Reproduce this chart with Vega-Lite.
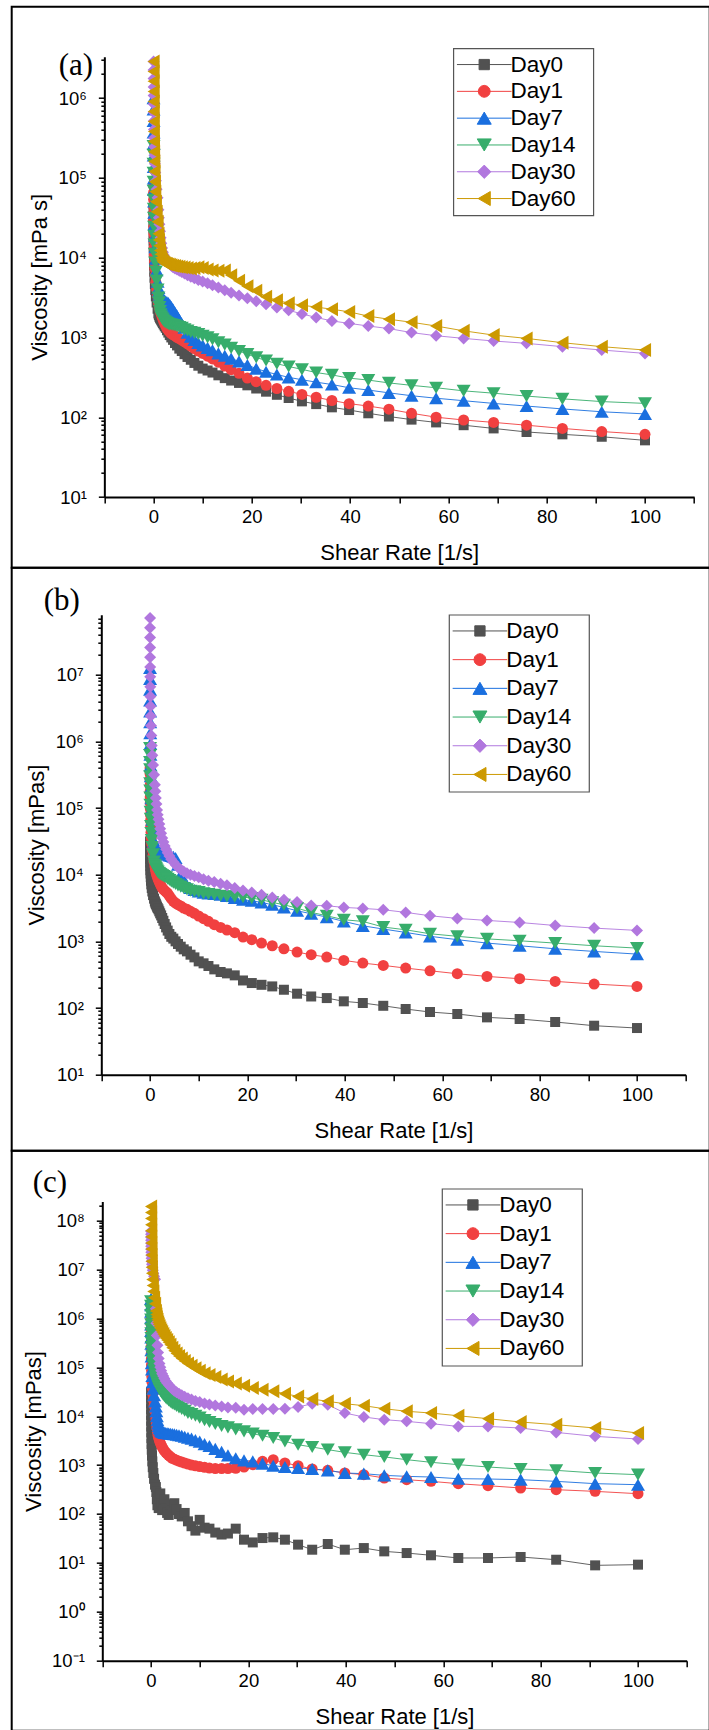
{
"$schema":"https://vega.github.io/schema/vega-lite/v6.json",
"background":"white",
"padding":{"left":10.7,"top":5.7,"right":-2,"bottom":-2},
"spacing":0,
"bounds":"flush",
"resolve":{"scale":{"color":"independent","shape":"independent"},"legend":{"color":"independent","shape":"independent"}},
"config":{
"view":{"stroke":"black","strokeWidth":2},
"axis":{"labelFont":"Liberation Sans","titleFont":"Liberation Sans","labelColor":"black","titleColor":"black","domainColor":"black","tickColor":"black","domainWidth":2,"tickWidth":1.5,"grid":false,"labelFontSize":18.5,"titleFontSize":22,"titleFontWeight":"normal","labelFlush":false,"labelOverlap":false},
"legend":{"strokeWidth":1.2}
},
"datasets":{
"a":[
{"x":0.01,"Day0":39800,"Day1":79400,"Day7":1000000,"Day14":251000,"Day30":2880000,"Day60":2880000},
{"x":0.0132,"Day0":33300,"Day1":65200,"Day7":718000,"Day14":194000,"Day30":2250000,"Day60":2160000},
{"x":0.0174,"Day0":27900,"Day1":53500,"Day7":516000,"Day14":150000,"Day30":1760000,"Day60":1620000},
{"x":0.0229,"Day0":23300,"Day1":43800,"Day7":371000,"Day14":116000,"Day30":1380000,"Day60":1210000},
{"x":0.0302,"Day0":19500,"Day1":35900,"Day7":266000,"Day14":89100,"Day30":1080000,"Day60":908000},
{"x":0.0398,"Day0":16300,"Day1":29400,"Day7":191000,"Day14":68800,"Day30":843000,"Day60":679000},
{"x":0.0525,"Day0":13600,"Day1":24200,"Day7":137000,"Day14":53100,"Day30":659000,"Day60":508000},
{"x":0.0692,"Day0":11400,"Day1":19800,"Day7":98600,"Day14":41000,"Day30":515000,"Day60":381000},
{"x":0.0912,"Day0":9550,"Day1":16200,"Day7":70800,"Day14":31600,"Day30":403000,"Day60":285000},
{"x":0.12,"Day0":8000,"Day1":13300,"Day7":50800,"Day14":24400,"Day30":315000,"Day60":213000},
{"x":0.158,"Day0":6680,"Day1":10900,"Day7":36600,"Day14":18800,"Day30":246000,"Day60":160000},
{"x":0.209,"Day0":5600,"Day1":8940,"Day7":26200,"Day14":14600,"Day30":192000,"Day60":120000},
{"x":0.275,"Day0":4680,"Day1":7330,"Day7":18800,"Day14":11200,"Day30":150000,"Day60":89700},
{"x":0.363,"Day0":3920,"Day1":6010,"Day7":13500,"Day14":8670,"Day30":117000,"Day60":67100},
{"x":0.479,"Day0":3270,"Day1":4930,"Day7":9720,"Day14":6680,"Day30":92000,"Day60":50200},
{"x":0.631,"Day0":2740,"Day1":4040,"Day7":6980,"Day14":5160,"Day30":71900,"Day60":37700},
{"x":0.832,"Day0":2290,"Day1":3310,"Day7":5010,"Day14":3980,"Day30":56200,"Day60":28200},
{"x":1,"Day0":2000,"Day1":2820,"Day7":4170,"Day14":3160,"Day30":39800,"Day60":20000},
{"x":1.1,"Day0":1910,"Day1":2630,"Day7":3800,"Day14":2750,"Day30":31600,"Day60":16600},
{"x":1.2,"Day0":1820,"Day1":2450,"Day7":3550,"Day14":2400,"Day30":26300,"Day60":14100},
{"x":1.32,"Day0":1760,"Day1":2240,"Day7":3390,"Day14":2140,"Day30":21400,"Day60":12300},
{"x":1.45,"Day0":1700,"Day1":2090,"Day7":3240,"Day14":1950,"Day30":17800,"Day60":11000},
{"x":1.58,"Day0":1640,"Day1":1950,"Day7":3160,"Day14":1820,"Day30":15100,"Day60":10000},
{"x":1.74,"Day0":1580,"Day1":1820,"Day7":3090,"Day14":1740,"Day30":13200,"Day60":9330},
{"x":1.91,"Day0":1510,"Day1":1700,"Day7":3020,"Day14":1680,"Day30":11700,"Day60":8910},
{"x":2.09,"Day0":1450,"Day1":1580,"Day7":2950,"Day14":1620,"Day30":10700,"Day60":8710},
{"x":2.29,"Day0":1380,"Day1":1480,"Day7":2880,"Day14":1580,"Day30":10000,"Day60":8510},
{"x":2.51,"Day0":1320,"Day1":1380,"Day7":2820,"Day14":1550,"Day30":9550,"Day60":8410},
{"x":2.75,"Day0":1230,"Day1":1290,"Day7":2750,"Day14":1510,"Day30":9120,"Day60":8320},
{"x":3.02,"Day0":1150,"Day1":1230,"Day7":2690,"Day14":1480,"Day30":8710,"Day60":8220},
{"x":3.31,"Day0":1070,"Day1":1170,"Day7":2570,"Day14":1460,"Day30":8320,"Day60":8130},
{"x":3.63,"Day0":1000,"Day1":1120,"Day7":2400,"Day14":1450,"Day30":7940,"Day60":8040},
{"x":3.98,"Day0":933,"Day1":1080,"Day7":2240,"Day14":1430,"Day30":7590,"Day60":7940},
{"x":4.37,"Day0":851,"Day1":1050,"Day7":2040,"Day14":1410,"Day30":7330,"Day60":7850},
{"x":4.79,"Day0":794,"Day1":1000,"Day7":1860,"Day14":1380,"Day30":7080,"Day60":7760},
{"x":5.25,"Day0":724,"Day1":966,"Day7":1660,"Day14":1350,"Day30":6840,"Day60":7670},
{"x":5.75,"Day0":676,"Day1":923,"Day7":1480,"Day14":1320,"Day30":6610,"Day60":7590},
{"x":6.31,"Day0":617,"Day1":881,"Day7":1320,"Day14":1260,"Day30":6310,"Day60":7500},
{"x":6.92,"Day0":569,"Day1":832,"Day7":1150,"Day14":1220,"Day30":6030,"Day60":7410},
{"x":7.59,"Day0":525,"Day1":776,"Day7":1020,"Day14":1170,"Day30":5750,"Day60":7330},
{"x":8.32,"Day0":479,"Day1":724,"Day7":933,"Day14":1140,"Day30":5500,"Day60":7410},
{"x":9.12,"Day0":442,"Day1":676,"Day7":851,"Day14":1100,"Day30":5250,"Day60":7590},
{"x":10,"Day0":407,"Day1":631,"Day7":794,"Day14":1050,"Day30":5010,"Day60":7410},
{"x":11,"Day0":385,"Day1":582,"Day7":741,"Day14":1000,"Day30":4790,"Day60":7080},
{"x":12,"Day0":363,"Day1":537,"Day7":692,"Day14":944,"Day30":4520,"Day60":6920},
{"x":13.2,"Day0":335,"Day1":490,"Day7":631,"Day14":871,"Day30":4220,"Day60":6840},
{"x":14.5,"Day0":309,"Day1":437,"Day7":589,"Day14":813,"Day30":3890,"Day60":6920},
{"x":15.8,"Day0":288,"Day1":394,"Day7":543,"Day14":741,"Day30":3630,"Day60":6030},
{"x":17.4,"Day0":269,"Day1":355,"Day7":501,"Day14":676,"Day30":3350,"Day60":5130},
{"x":19.1,"Day0":251,"Day1":309,"Day7":452,"Day14":617,"Day30":3090,"Day60":4370},
{"x":20.9,"Day0":229,"Day1":279,"Day7":407,"Day14":562,"Day30":2850,"Day60":3850},
{"x":22.9,"Day0":209,"Day1":251,"Day7":372,"Day14":513,"Day30":2600,"Day60":3240},
{"x":25.1,"Day0":191,"Day1":229,"Day7":343,"Day14":468,"Day30":2370,"Day60":2920},
{"x":27.5,"Day0":174,"Day1":211,"Day7":316,"Day14":432,"Day30":2190,"Day60":2690},
{"x":30.2,"Day0":158,"Day1":193,"Day7":295,"Day14":398,"Day30":1970,"Day60":2540},
{"x":33.1,"Day0":146,"Day1":178,"Day7":275,"Day14":363,"Day30":1780,"Day60":2400},
{"x":36.3,"Day0":133,"Day1":162,"Day7":257,"Day14":339,"Day30":1610,"Day60":2260},
{"x":39.8,"Day0":123,"Day1":148,"Day7":234,"Day14":309,"Day30":1500,"Day60":2090},
{"x":43.7,"Day0":112,"Day1":138,"Day7":219,"Day14":292,"Day30":1390,"Day60":1850},
{"x":47.9,"Day0":102,"Day1":126,"Day7":202,"Day14":269,"Day30":1290,"Day60":1690},
{"x":52.5,"Day0":93.3,"Day1":112,"Day7":186,"Day14":251,"Day30":1150,"Day60":1550},
{"x":57.5,"Day0":86.1,"Day1":100,"Day7":173,"Day14":234,"Day30":1050,"Day60":1390},
{"x":63.1,"Day0":79.4,"Day1":92.3,"Day7":161,"Day14":214,"Day30":973,"Day60":1210},
{"x":69.2,"Day0":72.4,"Day1":86.1,"Day7":149,"Day14":200,"Day30":902,"Day60":1070},
{"x":75.9,"Day0":65.3,"Day1":79.4,"Day7":138,"Day14":184,"Day30":843,"Day60":973},
{"x":83.2,"Day0":61.0,"Day1":72.4,"Day7":127,"Day14":170,"Day30":766,"Day60":859},
{"x":91.2,"Day0":56.9,"Day1":66.1,"Day7":117,"Day14":157,"Day30":695,"Day60":766},
{"x":100,"Day0":51.3,"Day1":61.0,"Day7":110,"Day14":149,"Day30":631,"Day60":695}
],
"b":[
{"x":0.01,"Day0":31600,"Day1":398000,"Day7":12600000,"Day14":794000,"Day30":70800000},
{"x":0.0132,"Day0":27900,"Day1":326000,"Day7":8670000,"Day14":622000,"Day30":50500000},
{"x":0.0174,"Day0":24700,"Day1":266000,"Day7":5960000,"Day14":487000,"Day30":36000000},
{"x":0.0229,"Day0":21800,"Day1":218000,"Day7":4100000,"Day14":381000,"Day30":25600000},
{"x":0.0302,"Day0":19300,"Day1":178000,"Day7":2820000,"Day14":299000,"Day30":18300000},
{"x":0.0398,"Day0":17000,"Day1":146000,"Day7":1940000,"Day14":234000,"Day30":13000000},
{"x":0.0525,"Day0":15100,"Day1":119000,"Day7":1330000,"Day14":183000,"Day30":9290000},
{"x":0.0692,"Day0":13300,"Day1":97200,"Day7":918000,"Day14":143000,"Day30":6620000},
{"x":0.0912,"Day0":11700,"Day1":79400,"Day7":631000,"Day14":112000,"Day30":4720000},
{"x":0.12,"Day0":10400,"Day1":65000,"Day7":434000,"Day14":87900,"Day30":3370000},
{"x":0.158,"Day0":9180,"Day1":53100,"Day7":299000,"Day14":68900,"Day30":2400000},
{"x":0.209,"Day0":8110,"Day1":43400,"Day7":206000,"Day14":53800,"Day30":1710000},
{"x":0.275,"Day0":7160,"Day1":35500,"Day7":141000,"Day14":42200,"Day30":1220000},
{"x":0.363,"Day0":6320,"Day1":29000,"Day7":97200,"Day14":33000,"Day30":869000},
{"x":0.479,"Day0":5600,"Day1":23700,"Day7":66800,"Day14":25900,"Day30":619000},
{"x":0.631,"Day0":4940,"Day1":19400,"Day7":46000,"Day14":20200,"Day30":442000},
{"x":0.832,"Day0":4370,"Day1":15800,"Day7":31600,"Day14":15800,"Day30":315000},
{"x":1,"Day0":3980,"Day1":13500,"Day7":28200,"Day14":14100,"Day30":224000},
{"x":1.1,"Day0":3800,"Day1":12300,"Day7":26300,"Day14":13200,"Day30":178000},
{"x":1.2,"Day0":3630,"Day1":11200,"Day7":25100,"Day14":12600,"Day30":141000},
{"x":1.32,"Day0":3470,"Day1":10200,"Day7":24000,"Day14":12000,"Day30":115000},
{"x":1.45,"Day0":3310,"Day1":9550,"Day7":23400,"Day14":11500,"Day30":93300},
{"x":1.58,"Day0":3160,"Day1":8910,"Day7":22900,"Day14":11100,"Day30":79400},
{"x":1.74,"Day0":3020,"Day1":8320,"Day7":22400,"Day14":10700,"Day30":67600},
{"x":1.91,"Day0":2820,"Day1":7760,"Day7":22400,"Day14":10500,"Day30":57500},
{"x":2.09,"Day0":2630,"Day1":7240,"Day7":21900,"Day14":10200,"Day30":49000},
{"x":2.29,"Day0":2450,"Day1":6760,"Day7":21900,"Day14":10000,"Day30":41700},
{"x":2.51,"Day0":2240,"Day1":6310,"Day7":21400,"Day14":9770,"Day30":35500},
{"x":2.75,"Day0":2040,"Day1":6030,"Day7":21400,"Day14":9550,"Day30":30900},
{"x":3.02,"Day0":1820,"Day1":5750,"Day7":20900,"Day14":9330,"Day30":26900},
{"x":3.31,"Day0":1620,"Day1":5500,"Day7":20400,"Day14":9120,"Day30":24000},
{"x":3.63,"Day0":1450,"Day1":5250,"Day7":20000,"Day14":8710,"Day30":21400},
{"x":3.98,"Day0":1290,"Day1":4790,"Day7":19500,"Day14":8320,"Day30":19100},
{"x":4.37,"Day0":1170,"Day1":4370,"Day7":19100,"Day14":7940,"Day30":17000},
{"x":4.79,"Day0":1100,"Day1":3980,"Day7":18600,"Day14":7590,"Day30":15500},
{"x":5.25,"Day0":1000,"Day1":3760,"Day7":17800,"Day14":7240,"Day30":14100},
{"x":5.75,"Day0":912,"Day1":3550,"Day7":14100,"Day14":6920,"Day30":12900},
{"x":6.31,"Day0":832,"Day1":3390,"Day7":10000,"Day14":6610,"Day30":12000},
{"x":6.92,"Day0":759,"Day1":3160,"Day7":7940,"Day14":6310,"Day30":11200},
{"x":7.59,"Day0":708,"Day1":3020,"Day7":6920,"Day14":6030,"Day30":10500},
{"x":8.32,"Day0":631,"Day1":2820,"Day7":6310,"Day14":5750,"Day30":10000},
{"x":9.12,"Day0":575,"Day1":2630,"Day7":5890,"Day14":5620,"Day30":9550},
{"x":10,"Day0":501,"Day1":2400,"Day7":5620,"Day14":5500,"Day30":9120},
{"x":11,"Day0":468,"Day1":2190,"Day7":5370,"Day14":5250,"Day30":8510},
{"x":12,"Day0":427,"Day1":2000,"Day7":5250,"Day14":5130,"Day30":8130},
{"x":13.2,"Day0":380,"Day1":1780,"Day7":5130,"Day14":5010,"Day30":7760},
{"x":14.5,"Day0":347,"Day1":1620,"Day7":5010,"Day14":4840,"Day30":7330},
{"x":15.8,"Day0":331,"Day1":1480,"Day7":4790,"Day14":4730,"Day30":6920},
{"x":17.4,"Day0":309,"Day1":1350,"Day7":4470,"Day14":4680,"Day30":6310},
{"x":19.1,"Day0":259,"Day1":1160,"Day7":4210,"Day14":4610,"Day30":5800},
{"x":20.9,"Day0":237,"Day1":1060,"Day7":4060,"Day14":4460,"Day30":5420},
{"x":22.9,"Day0":223,"Day1":942,"Day7":3840,"Day14":4210,"Day30":5000},
{"x":25.1,"Day0":211,"Day1":859,"Day7":3540,"Day14":3840,"Day30":4560},
{"x":27.5,"Day0":188,"Day1":774,"Day7":3230,"Day14":3540,"Day30":4210},
{"x":30.2,"Day0":164,"Day1":690,"Day7":2880,"Day14":3150,"Day30":3880},
{"x":33.1,"Day0":149,"Day1":630,"Day7":2590,"Day14":2720,"Day30":3460},
{"x":36.3,"Day0":141,"Day1":581,"Day7":2310,"Day14":2420,"Day30":3420},
{"x":39.8,"Day0":126,"Day1":518,"Day7":1990,"Day14":2110,"Day30":3230},
{"x":43.7,"Day0":119,"Day1":472,"Day7":1710,"Day14":1990,"Day30":3120},
{"x":47.9,"Day0":108,"Day1":436,"Day7":1530,"Day14":1640,"Day30":2980},
{"x":52.5,"Day0":96.6,"Day1":397,"Day7":1360,"Day14":1490,"Day30":2720},
{"x":57.5,"Day0":87.1,"Day1":362,"Day7":1190,"Day14":1300,"Day30":2420},
{"x":63.1,"Day0":81.3,"Day1":327,"Day7":1060,"Day14":1190,"Day30":2210},
{"x":69.2,"Day0":72.4,"Day1":298,"Day7":942,"Day14":1090,"Day30":2060},
{"x":75.9,"Day0":68.4,"Day1":275,"Day7":859,"Day14":1020,"Day30":1920},
{"x":83.2,"Day0":61.7,"Day1":251,"Day7":774,"Day14":942,"Day30":1730},
{"x":91.2,"Day0":54.3,"Day1":229,"Day7":706,"Day14":859,"Day30":1580},
{"x":100,"Day0":50.1,"Day1":211,"Day7":644,"Day14":792,"Day30":1460}
],
"c":[
{"x":0.01,"Day0":31600,"Day1":1000000,"Day7":2510000,"Day14":2240000,"Day30":60300000,"Day60":195000000},
{"x":0.0132,"Day0":24000,"Day1":761000,"Day7":1860000,"Day14":1800000,"Day30":52400000,"Day60":147000000},
{"x":0.0174,"Day0":18300,"Day1":579000,"Day7":1370000,"Day14":1450000,"Day30":45500000,"Day60":110000000},
{"x":0.0229,"Day0":13900,"Day1":440000,"Day7":1010000,"Day14":1170000,"Day30":39400000,"Day60":82600000},
{"x":0.0302,"Day0":10600,"Day1":335000,"Day7":750000,"Day14":944000,"Day30":34300000,"Day60":61900000},
{"x":0.0398,"Day0":8050,"Day1":255000,"Day7":555000,"Day14":761000,"Day30":29800000,"Day60":46600000},
{"x":0.0525,"Day0":6140,"Day1":194000,"Day7":410000,"Day14":614000,"Day30":25900000,"Day60":35000000},
{"x":0.0692,"Day0":4670,"Day1":148000,"Day7":303000,"Day14":494000,"Day30":22400000,"Day60":26200000},
{"x":0.0912,"Day0":3550,"Day1":112000,"Day7":224000,"Day14":398000,"Day30":19500000,"Day60":19700000},
{"x":0.12,"Day0":2700,"Day1":85400,"Day7":166000,"Day14":321000,"Day30":16900000,"Day60":14800000},
{"x":0.158,"Day0":2060,"Day1":65000,"Day7":122000,"Day14":259000,"Day30":14700000,"Day60":11100000},
{"x":0.209,"Day0":1560,"Day1":49400,"Day7":90400,"Day14":208000,"Day30":12800000,"Day60":8360000},
{"x":0.275,"Day0":1190,"Day1":37600,"Day7":66800,"Day14":168000,"Day30":11100000,"Day60":6270000},
{"x":0.363,"Day0":904,"Day1":28600,"Day7":49400,"Day14":135000,"Day30":9640000,"Day60":4710000},
{"x":0.479,"Day0":689,"Day1":21800,"Day7":36500,"Day14":109000,"Day30":8370000,"Day60":3530000},
{"x":0.631,"Day0":524,"Day1":16600,"Day7":27000,"Day14":87900,"Day30":7260000,"Day60":2650000},
{"x":0.832,"Day0":398,"Day1":12600,"Day7":20000,"Day14":70800,"Day30":6310000,"Day60":2000000},
{"x":1,"Day0":355,"Day1":8910,"Day7":15800,"Day14":60300,"Day30":1580000,"Day60":1410000},
{"x":1.1,"Day0":282,"Day1":7080,"Day7":12600,"Day14":55000,"Day30":794000,"Day60":1200000},
{"x":1.2,"Day0":200,"Day1":5750,"Day7":10000,"Day14":51300,"Day30":447000,"Day60":1050000},
{"x":1.32,"Day0":151,"Day1":4790,"Day7":8320,"Day14":46800,"Day30":282000,"Day60":933000},
{"x":1.45,"Day0":178,"Day1":4070,"Day7":7080,"Day14":42700,"Day30":200000,"Day60":832000},
{"x":1.58,"Day0":132,"Day1":3550,"Day7":6310,"Day14":39800,"Day30":151000,"Day60":759000},
{"x":1.74,"Day0":224,"Day1":3160,"Day7":5750,"Day14":36300,"Day30":120000,"Day60":692000},
{"x":1.91,"Day0":263,"Day1":2820,"Day7":5370,"Day14":33900,"Day30":100000,"Day60":631000},
{"x":2.09,"Day0":166,"Day1":2570,"Day7":5010,"Day14":31600,"Day30":85100,"Day60":575000},
{"x":2.29,"Day0":120,"Day1":2340,"Day7":4790,"Day14":29500,"Day30":74100,"Day60":525000},
{"x":2.51,"Day0":151,"Day1":2140,"Day7":4680,"Day14":27500,"Day30":66100,"Day60":479000},
{"x":2.75,"Day0":200,"Day1":1950,"Day7":4570,"Day14":25700,"Day30":58900,"Day60":437000},
{"x":3.02,"Day0":132,"Day1":1820,"Day7":4520,"Day14":24000,"Day30":52500,"Day60":398000},
{"x":3.31,"Day0":105,"Day1":1700,"Day7":4470,"Day14":22400,"Day30":47900,"Day60":363000},
{"x":3.63,"Day0":95.5,"Day1":1580,"Day7":4420,"Day14":20900,"Day30":43700,"Day60":324000},
{"x":3.98,"Day0":158,"Day1":1480,"Day7":4370,"Day14":19500,"Day30":39800,"Day60":288000},
{"x":4.37,"Day0":120,"Day1":1380,"Day7":4320,"Day14":18200,"Day30":36300,"Day60":251000},
{"x":4.79,"Day0":166,"Day1":1320,"Day7":4270,"Day14":17400,"Day30":33100,"Day60":219000},
{"x":5.25,"Day0":126,"Day1":1260,"Day7":4170,"Day14":16200,"Day30":30900,"Day60":191000},
{"x":5.75,"Day0":100,"Day1":1200,"Day7":4070,"Day14":15100,"Day30":28800,"Day60":170000},
{"x":6.31,"Day0":89.1,"Day1":1150,"Day7":3980,"Day14":14100,"Day30":26900,"Day60":151000},
{"x":6.92,"Day0":105,"Day1":1100,"Day7":3800,"Day14":12900,"Day30":25100,"Day60":135000},
{"x":7.59,"Day0":70.8,"Day1":1050,"Day7":3630,"Day14":11700,"Day30":23400,"Day60":120000},
{"x":8.32,"Day0":56.2,"Day1":1000,"Day7":3470,"Day14":11000,"Day30":21900,"Day60":107000},
{"x":9.12,"Day0":45.7,"Day1":966,"Day7":3240,"Day14":10200,"Day30":20400,"Day60":95500},
{"x":10,"Day0":75.9,"Day1":933,"Day7":3020,"Day14":9330,"Day30":19500,"Day60":85100},
{"x":11,"Day0":52.5,"Day1":902,"Day7":2690,"Day14":8320,"Day30":18200,"Day60":75900},
{"x":12,"Day0":50.1,"Day1":871,"Day7":2450,"Day14":7590,"Day30":17400,"Day60":69200},
{"x":13.2,"Day0":41.7,"Day1":851,"Day7":2140,"Day14":6920,"Day30":16600,"Day60":63100},
{"x":14.5,"Day0":38.0,"Day1":851,"Day7":1860,"Day14":6310,"Day30":15800,"Day60":56200},
{"x":15.8,"Day0":39.8,"Day1":851,"Day7":1580,"Day14":5890,"Day30":15100,"Day60":51300},
{"x":17.4,"Day0":50.1,"Day1":861,"Day7":1380,"Day14":5370,"Day30":14800,"Day60":46800},
{"x":19.1,"Day0":29.8,"Day1":914,"Day7":1250,"Day14":4890,"Day30":13600,"Day60":42100},
{"x":20.9,"Day0":26.2,"Day1":1019,"Day7":1190,"Day14":4390,"Day30":14000,"Day60":37700},
{"x":22.9,"Day0":32.2,"Day1":1193,"Day7":1070,"Day14":3990,"Day30":14000,"Day60":34900},
{"x":25.1,"Day0":33.3,"Day1":1290,"Day7":972,"Day14":3580,"Day30":14000,"Day60":32200},
{"x":27.5,"Day0":29.8,"Day1":1104,"Day7":914,"Day14":3050,"Day30":14200,"Day60":28800},
{"x":30.2,"Day0":23.6,"Day1":972,"Day7":871,"Day14":2610,"Day30":15400,"Day60":25400},
{"x":33.1,"Day0":18.6,"Day1":832,"Day7":832,"Day14":2340,"Day30":18000,"Day60":22400},
{"x":36.3,"Day0":24.3,"Day1":780,"Day7":780,"Day14":2070,"Day30":17200,"Day60":20100},
{"x":39.8,"Day0":18.6,"Day1":689,"Day7":689,"Day14":1820,"Day30":11600,"Day60":18000},
{"x":43.7,"Day0":20.1,"Day1":637,"Day7":667,"Day14":1630,"Day30":9620,"Day60":16400},
{"x":47.9,"Day0":17.2,"Day1":544,"Day7":616,"Day14":1470,"Day30":8480,"Day60":14200},
{"x":52.5,"Day0":15.9,"Day1":503,"Day7":588,"Day14":1290,"Day30":7840,"Day60":12600},
{"x":57.5,"Day0":14.3,"Day1":465,"Day7":570,"Day14":1140,"Day30":7030,"Day60":11600},
{"x":63.1,"Day0":12.6,"Day1":417,"Day7":527,"Day14":1020,"Day30":6180,"Day60":10200},
{"x":69.2,"Day0":12.6,"Day1":379,"Day7":519,"Day14":914,"Day30":6180,"Day60":8890},
{"x":75.9,"Day0":13.2,"Day1":340,"Day7":503,"Day14":832,"Day30":5730,"Day60":7600},
{"x":83.2,"Day0":11.6,"Day1":314,"Day7":465,"Day14":780,"Day30":4660,"Day60":6700},
{"x":91.2,"Day0":8.9,"Day1":290,"Day7":417,"Day14":689,"Day30":3870,"Day60":5730},
{"x":100,"Day0":9.2,"Day1":260,"Day7":397,"Day14":637,"Day30":3410,"Day60":4530}
]
},
"vconcat":[
{
"width":698,"height":561,
"title":{"text":"(a)","anchor":"start","frame":"group","orient":"top","offset":0,"font":"Liberation Serif","fontSize":31,"fontWeight":"normal","color":"black","dx":47,"dy":75},
"data":{"name":"a"},
"transform":[{"fold":["Day0","Day1","Day7","Day14","Day30","Day60"],"as":["day","v"]},{"filter":"isValid(datum.v)"}],
"encoding":{
"x":{"field":"x","type":"quantitative","scale":{"domain":[-10,110],"range":[92.65,682.45],"nice":false,"zero":false},
"axis":{"orient":"bottom","offset":-70.7,"values":[-10,0,10,20,30,40,50,60,70,80,90,100,110],"labelExpr":"datum.value >= 0 && datum.value <= 100 && datum.value % 20 == 0 ? datum.label : ''","title":"Shear Rate [1/s]","tickSize":6,"labelPadding":5,"titlePadding":16}},
"y":{"field":"v","type":"quantitative","scale":{"type":"log","domain":[10,3300000],"range":[490.3,50],"nice":false},
"axis":{"orient":"left","offset":-92.65,"tickCount":20,"labelExpr":"abs(log(datum.value)/LN10 - round(log(datum.value)/LN10)) < 0.001 ? '10' + (round(log(datum.value)/LN10) < 0 ? '⁻¹' : ['⁰','¹','²','³','⁴','⁵','⁶','⁷','⁸','⁹'][round(log(datum.value)/LN10)]) : ''","tickSize":{"condition":{"test":"abs(log(datum.value)/LN10 - round(log(datum.value)/LN10)) < 0.001","value":6},"value":3.5},"labelPadding":12,"title":"Viscosity [mPa s]","titlePadding":6}},
"color":{"field":"day","type":"nominal","scale":{"domain":["Day0","Day1","Day7","Day14","Day30","Day60"],"range":["#515151","#F14040","#1A6FDF","#37AD6B","#B177DE","#CC9900"]},
"legend":{"orient":"none","legendX":441.6,"legendY":41.6,"direction":"vertical","title":"WW","titleOrient":"right","titleFontSize":6.5,"titleColor":"white","titlePadding":0,"labelFont":"Liberation Sans","labelFontSize":22.5,"labelColor":"black","symbolSize":100,"symbolStrokeWidth":1,"symbolOpacity":1,"symbolOffset":14.7,"labelOffset":15,"padding":5,"rowPadding":3.8,"strokeColor":"#555555"}}
},
"layer":[
{"mark":{"type":"line","strokeWidth":1,"opacity":0.9}},
{"transform":[{"filter":"datum.day === 'Day0'"}],"mark":{"type":"point","filled":true,"opacity":1,"shape":"square","size":100}},
{"transform":[{"filter":"datum.day === 'Day1'"}],"mark":{"type":"point","filled":true,"opacity":1,"shape":"circle","size":121}},
{"transform":[{"filter":"datum.day === 'Day7'"}],"mark":{"type":"point","filled":true,"opacity":1,"shape":"triangle-up","size":196}},
{"transform":[{"filter":"datum.day === 'Day14'"}],"mark":{"type":"point","filled":true,"opacity":1,"shape":"triangle-down","size":196}},
{"transform":[{"filter":"datum.day === 'Day30'"}],"mark":{"type":"point","filled":true,"opacity":1,"shape":"diamond","size":144}},
{"transform":[{"filter":"datum.day === 'Day60'"}],"mark":{"type":"point","filled":true,"opacity":1,"shape":"triangle-left","size":196}},
{"transform":[{"filter":"false"}],"mark":{"type":"point","filled":true},
"encoding":{
"shape":{"field":"day","type":"nominal","scale":{"domain":["Day0","Day1","Day7","Day14","Day30","Day60"],"range":["M-5.46,0H5.46M-1.03,-1.03H1.03V1.03H-1.03Z","M-5.46,0H5.46M1.2,0L1.04,0.6L0.6,1.04L0,1.2L-0.6,1.04L-1.04,0.6L-1.2,0L-1.04,-0.6L-0.6,-1.04L0,-1.2L0.6,-1.04L1.04,-0.6Z","M-5.46,0H5.46M0,-1.21L1.4,1.21L-1.4,1.21Z","M-5.46,0H5.46M0,1.21L1.4,-1.21L-1.4,-1.21Z","M-5.46,0H5.46M0,-1.33L1.33,0L0,1.33L-1.33,0Z","M-5.46,0H5.46M-1.21,0L1.21,-1.4L1.21,1.4Z"]},
"legend":{"orient":"none","legendX":441.6,"legendY":41.6,"direction":"vertical","title":"WW","titleOrient":"right","titleFontSize":6.5,"titleColor":"white","titlePadding":0,"labelFont":"Liberation Sans","labelFontSize":22.5,"labelColor":"black","symbolSize":100,"symbolStrokeWidth":1,"symbolOpacity":1,"symbolOffset":14.7,"labelOffset":15,"padding":5,"rowPadding":3.8,"strokeColor":"#555555"}}
}}
]
},
{
"width":698,"height":583,
"title":{"text":"(b)","anchor":"start","frame":"group","orient":"top","offset":0,"font":"Liberation Serif","fontSize":31,"fontWeight":"normal","color":"black","dx":32,"dy":49},
"data":{"name":"b"},
"transform":[{"fold":["Day0","Day1","Day7","Day14","Day30","Day60"],"as":["day","v"]},{"filter":"isValid(datum.v)"}],
"encoding":{
"x":{"field":"x","type":"quantitative","scale":{"domain":[-10,110],"range":[89.6,674],"nice":false,"zero":false},
"axis":{"orient":"bottom","offset":-76,"values":[-10,0,10,20,30,40,50,60,70,80,90,100,110],"labelExpr":"datum.value >= 0 && datum.value <= 100 && datum.value % 20 == 0 ? datum.label : ''","title":"Shear Rate [1/s]","tickSize":6,"labelPadding":5,"titlePadding":16}},
"y":{"field":"v","type":"quantitative","scale":{"type":"log","domain":[10,79400000],"range":[507,47],"nice":false},
"axis":{"orient":"left","offset":-89.6,"tickCount":20,"labelExpr":"abs(log(datum.value)/LN10 - round(log(datum.value)/LN10)) < 0.001 ? '10' + (round(log(datum.value)/LN10) < 0 ? '⁻¹' : ['⁰','¹','²','³','⁴','⁵','⁶','⁷','⁸','⁹'][round(log(datum.value)/LN10)]) : ''","tickSize":{"condition":{"test":"abs(log(datum.value)/LN10 - round(log(datum.value)/LN10)) < 0.001","value":6},"value":3.5},"labelPadding":12,"title":"Viscosity [mPas]","titlePadding":6}},
"color":{"field":"day","type":"nominal","scale":{"domain":["Day0","Day1","Day7","Day14","Day30","Day60"],"range":["#515151","#F14040","#1A6FDF","#37AD6B","#B177DE","#CC9900"]},
"legend":{"orient":"none","legendX":437.3,"legendY":47,"direction":"vertical","title":"WW","titleOrient":"right","titleFontSize":6.5,"titleColor":"white","titlePadding":0,"labelFont":"Liberation Sans","labelFontSize":22.5,"labelColor":"black","symbolSize":100,"symbolStrokeWidth":1,"symbolOpacity":1,"symbolOffset":14.7,"labelOffset":15,"padding":5,"rowPadding":5.7,"strokeColor":"#555555"}}
},
"layer":[
{"mark":{"type":"line","strokeWidth":1,"opacity":0.9}},
{"transform":[{"filter":"datum.day === 'Day0'"}],"mark":{"type":"point","filled":true,"opacity":1,"shape":"square","size":100}},
{"transform":[{"filter":"datum.day === 'Day1'"}],"mark":{"type":"point","filled":true,"opacity":1,"shape":"circle","size":121}},
{"transform":[{"filter":"datum.day === 'Day7'"}],"mark":{"type":"point","filled":true,"opacity":1,"shape":"triangle-up","size":196}},
{"transform":[{"filter":"datum.day === 'Day14'"}],"mark":{"type":"point","filled":true,"opacity":1,"shape":"triangle-down","size":196}},
{"transform":[{"filter":"datum.day === 'Day30'"}],"mark":{"type":"point","filled":true,"opacity":1,"shape":"diamond","size":144}},
{"transform":[{"filter":"false"}],"mark":{"type":"point","filled":true},
"encoding":{
"shape":{"field":"day","type":"nominal","scale":{"domain":["Day0","Day1","Day7","Day14","Day30","Day60"],"range":["M-5.46,0H5.46M-1.03,-1.03H1.03V1.03H-1.03Z","M-5.46,0H5.46M1.2,0L1.04,0.6L0.6,1.04L0,1.2L-0.6,1.04L-1.04,0.6L-1.2,0L-1.04,-0.6L-0.6,-1.04L0,-1.2L0.6,-1.04L1.04,-0.6Z","M-5.46,0H5.46M0,-1.21L1.4,1.21L-1.4,1.21Z","M-5.46,0H5.46M0,1.21L1.4,-1.21L-1.4,-1.21Z","M-5.46,0H5.46M0,-1.33L1.33,0L0,1.33L-1.33,0Z","M-5.46,0H5.46M-1.21,0L1.21,-1.4L1.21,1.4Z"]},
"legend":{"orient":"none","legendX":437.3,"legendY":47,"direction":"vertical","title":"WW","titleOrient":"right","titleFontSize":6.5,"titleColor":"white","titlePadding":0,"labelFont":"Liberation Sans","labelFontSize":22.5,"labelColor":"black","symbolSize":100,"symbolStrokeWidth":1,"symbolOpacity":1,"symbolOffset":14.7,"labelOffset":15,"padding":5,"rowPadding":5.7,"strokeColor":"#555555"}}
}}
]
},
{
"width":698,"height":580,
"title":{"text":"(c)","anchor":"start","frame":"group","orient":"top","offset":0,"font":"Liberation Serif","fontSize":31,"fontWeight":"normal","color":"black","dx":21,"dy":48},
"data":{"name":"c"},
"transform":[{"fold":["Day0","Day1","Day7","Day14","Day30","Day60"],"as":["day","v"]},{"filter":"isValid(datum.v)"}],
"encoding":{
"x":{"field":"x","type":"quantitative","scale":{"domain":[-10,110],"range":[90.6,675],"nice":false,"zero":false},
"axis":{"orient":"bottom","offset":-70,"values":[-10,0,10,20,30,40,50,60,70,80,90,100,110],"labelExpr":"datum.value >= 0 && datum.value <= 100 && datum.value % 20 == 0 ? datum.label : ''","title":"Shear Rate [1/s]","tickSize":6,"labelPadding":5,"titlePadding":16}},
"y":{"field":"v","type":"quantitative","scale":{"type":"log","domain":[0.1,247000000],"range":[510,50.7],"nice":false},
"axis":{"orient":"left","offset":-90.6,"tickCount":20,"labelExpr":"abs(log(datum.value)/LN10 - round(log(datum.value)/LN10)) < 0.001 ? '10' + (round(log(datum.value)/LN10) < 0 ? '⁻¹' : ['⁰','¹','²','³','⁴','⁵','⁶','⁷','⁸','⁹'][round(log(datum.value)/LN10)]) : ''","tickSize":{"condition":{"test":"abs(log(datum.value)/LN10 - round(log(datum.value)/LN10)) < 0.001","value":6},"value":3.5},"labelPadding":12,"title":"Viscosity [mPas]","titlePadding":6}},
"color":{"field":"day","type":"nominal","scale":{"domain":["Day0","Day1","Day7","Day14","Day30","Day60"],"range":["#515151","#F14040","#1A6FDF","#37AD6B","#B177DE","#CC9900"]},
"legend":{"orient":"none","legendX":430.3,"legendY":38,"direction":"vertical","title":"WW","titleOrient":"right","titleFontSize":6.5,"titleColor":"white","titlePadding":0,"labelFont":"Liberation Sans","labelFontSize":22.5,"labelColor":"black","symbolSize":100,"symbolStrokeWidth":1,"symbolOpacity":1,"symbolOffset":14.7,"labelOffset":15,"padding":5,"rowPadding":5.7,"strokeColor":"#555555"}}
},
"layer":[
{"mark":{"type":"line","strokeWidth":1,"opacity":0.9}},
{"transform":[{"filter":"datum.day === 'Day0'"}],"mark":{"type":"point","filled":true,"opacity":1,"shape":"square","size":100}},
{"transform":[{"filter":"datum.day === 'Day1'"}],"mark":{"type":"point","filled":true,"opacity":1,"shape":"circle","size":121}},
{"transform":[{"filter":"datum.day === 'Day7'"}],"mark":{"type":"point","filled":true,"opacity":1,"shape":"triangle-up","size":196}},
{"transform":[{"filter":"datum.day === 'Day14'"}],"mark":{"type":"point","filled":true,"opacity":1,"shape":"triangle-down","size":196}},
{"transform":[{"filter":"datum.day === 'Day30'"}],"mark":{"type":"point","filled":true,"opacity":1,"shape":"diamond","size":144}},
{"transform":[{"filter":"datum.day === 'Day60'"}],"mark":{"type":"point","filled":true,"opacity":1,"shape":"triangle-left","size":196}},
{"transform":[{"filter":"false"}],"mark":{"type":"point","filled":true},
"encoding":{
"shape":{"field":"day","type":"nominal","scale":{"domain":["Day0","Day1","Day7","Day14","Day30","Day60"],"range":["M-5.46,0H5.46M-1.03,-1.03H1.03V1.03H-1.03Z","M-5.46,0H5.46M1.2,0L1.04,0.6L0.6,1.04L0,1.2L-0.6,1.04L-1.04,0.6L-1.2,0L-1.04,-0.6L-0.6,-1.04L0,-1.2L0.6,-1.04L1.04,-0.6Z","M-5.46,0H5.46M0,-1.21L1.4,1.21L-1.4,1.21Z","M-5.46,0H5.46M0,1.21L1.4,-1.21L-1.4,-1.21Z","M-5.46,0H5.46M0,-1.33L1.33,0L0,1.33L-1.33,0Z","M-5.46,0H5.46M-1.21,0L1.21,-1.4L1.21,1.4Z"]},
"legend":{"orient":"none","legendX":430.3,"legendY":38,"direction":"vertical","title":"WW","titleOrient":"right","titleFontSize":6.5,"titleColor":"white","titlePadding":0,"labelFont":"Liberation Sans","labelFontSize":22.5,"labelColor":"black","symbolSize":100,"symbolStrokeWidth":1,"symbolOpacity":1,"symbolOffset":14.7,"labelOffset":15,"padding":5,"rowPadding":5.7,"strokeColor":"#555555"}}
}}
]
}
]
}
